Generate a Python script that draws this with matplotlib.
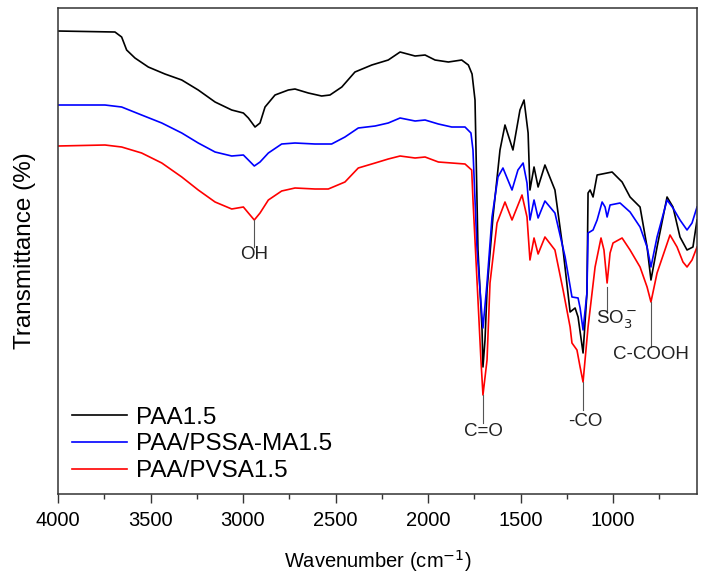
import numpy as np
import matplotlib
matplotlib.use("Agg")
import matplotlib.pyplot as plt
from matplotlib.ticker import MultipleLocator

# wavenumber (cm-1) and transmittance (arb. units)
paa_wn = [4000, 3692, 3656, 3629, 3584, 3512, 3422, 3331, 3242, 3151, 3061, 2998, 2971, 2935, 2908,
          2881, 2827, 2755, 2719, 2647, 2575, 2530, 2466, 2395, 2304, 2215, 2151, 2070, 2016, 1962,
          1890, 1818, 1782, 1762, 1746,
          1730, 1708, 1703, 1692, 1681, 1649, 1611, 1584, 1541, 1503, 1481, 1459, 1449, 1427, 1405,
          1368, 1314, 1270, 1232, 1205, 1189, 1162, 1141, 1135, 1124, 1108, 1086, 1005, 951, 908,
          854, 816, 795, 762, 708, 676, 638, 600, 568, 546]
paa_t = [463, 462, 457, 444, 436, 427, 420, 414, 404, 392, 384, 381, 376, 367, 371,
         387, 399, 404, 405, 401, 398, 399, 407, 422, 429, 434, 442, 438, 439, 434,
         432, 434, 429, 420, 394,
         244, 164, 127, 154, 204, 277, 344, 369, 344, 384, 394, 361, 304, 327, 307,
         329, 304, 244, 182, 186, 177, 141, 201, 301, 304, 297, 319, 322, 312, 297,
         287, 247, 214, 247, 297, 287, 257, 244, 247, 274]

pssa_wn = [4000, 3746, 3656, 3548, 3439, 3331, 3242, 3151, 3061, 2998, 2971, 2939, 2908, 2863, 2791,
           2719, 2611, 2521, 2449, 2377, 2286, 2215, 2151, 2070, 2016, 1944, 1872, 1800, 1768, 1757,
           1735, 1708, 1703, 1681, 1654, 1622, 1595, 1546, 1514, 1486, 1465, 1449, 1427, 1405, 1368,
           1314, 1259, 1222, 1189, 1178, 1162, 1141, 1135, 1108, 1086, 1059, 1043, 1032, 1016, 962,
           908, 854, 816, 795, 762, 708, 676, 638, 600, 573, 546]
pssa_t = [389, 389, 387, 379, 371, 361, 351, 342, 338, 339, 334, 328, 332, 341, 350,
          351, 350, 350, 357, 366, 368, 371, 376, 373, 374, 370, 367, 367, 361, 344,
          244, 177, 166, 211, 277, 317, 326, 304, 324, 331, 311, 274, 294, 276, 293,
          281, 237, 197, 196, 186, 164, 201, 261, 264, 274, 292, 287, 277, 289, 291,
          282, 267, 247, 227, 257, 294, 286, 274, 264, 271, 287]

pvsa_wn = [4000, 3746, 3656, 3548, 3439, 3331, 3242, 3151, 3061, 2998, 2971, 2939, 2908, 2863, 2791,
           2719, 2611, 2539, 2449, 2377, 2286, 2215, 2151, 2070, 2016, 1944, 1872, 1800, 1764, 1757,
           1730, 1714, 1703, 1681, 1665, 1627, 1584, 1546, 1492, 1465, 1449, 1427, 1405, 1368, 1314,
           1270, 1232, 1222, 1195, 1178, 1162, 1135, 1097, 1065, 1049, 1032, 1016, 1000, 951, 908,
           854, 816, 795, 762, 692, 654, 622, 600, 573, 546]
pvsa_t = [348, 349, 347, 341, 331, 317, 304, 292, 285, 287, 281, 274, 281, 294, 303,
          306, 305, 305, 312, 326, 331, 335, 338, 336, 337, 332, 331, 330, 324, 294,
          194, 134, 99, 134, 211, 271, 292, 274, 299, 277, 234, 256, 240, 257, 244,
          204, 167, 151, 144, 127, 112, 167, 227, 256, 244, 211, 241, 251, 256, 244,
          227, 207, 192, 221, 259, 247, 232, 227, 234, 247]

labels = ["PAA1.5", "PAA/PSSA-MA1.5", "PAA/PVSA1.5"]
colors = ["black", "#0000ff", "#ff0000"]

# band labels
bands = ["OH", "C=O", "-CO", "SO$_3^-$", "C-COOH"]
band_wn = [2941, 1703, 1162, 1032, 795]
band_top = [274, 99, 112, 207, 192]
band_bot = [247, 71, 84, 181, 147]
band_tx = [2941, 1703, 1151, 978, 795]
band_ty = [239, 62, 72, 174, 139]

plt.rcParams['font.family'] = ['Liberation Sans', 'DejaVu Sans']

fig = plt.figure(figsize=(7.03, 5.85), dpi=100)
ax = fig.add_axes([0.0825, 0.1556, 0.909, 0.8307])

ax.plot(paa_wn, paa_t, color=colors[0], lw=1.2, label=labels[0])
ax.plot(pssa_wn, pssa_t, color=colors[1], lw=1.2, label=labels[1])
ax.plot(pvsa_wn, pvsa_t, color=colors[2], lw=1.2, label=labels[2])

for i in range(len(bands)):
    ax.plot([band_wn[i], band_wn[i]], [band_top[i], band_bot[i]], color='#555555', lw=0.8)
    ax.text(band_tx[i], band_ty[i], bands[i], ha='center', va='center',
            fontsize=13.5, color='#222222')

ax.set_xlim(4000, 546)
ax.set_ylim(0, 486)
ax.set_yticks([])
ax.xaxis.set_major_locator(MultipleLocator(500))
ax.xaxis.set_minor_locator(MultipleLocator(250))
ax.tick_params(axis='x', which='major', direction='out', length=6.5, width=1, colors='#333333',
               labelsize=14.5, labelcolor='black', pad=6)
ax.tick_params(axis='x', which='minor', direction='out', length=3.5, width=1, colors='#333333')
for s in ax.spines.values():
    s.set_linewidth(1.1)
    s.set_color('#333333')

ax.set_xlabel("Wavenumber (cm$^{-1}$)", fontsize=14.5, labelpad=13)
ax.set_ylabel("Transmittance (%)", fontsize=17.5, labelpad=16)

ax.legend(loc='lower left', bbox_to_anchor=(0.006, 0.004), frameon=False, fontsize=17.5,
          handlelength=2.3, handletextpad=0.37, labelspacing=0.2, borderaxespad=0.0)

fig.savefig("out.png", dpi=100)
